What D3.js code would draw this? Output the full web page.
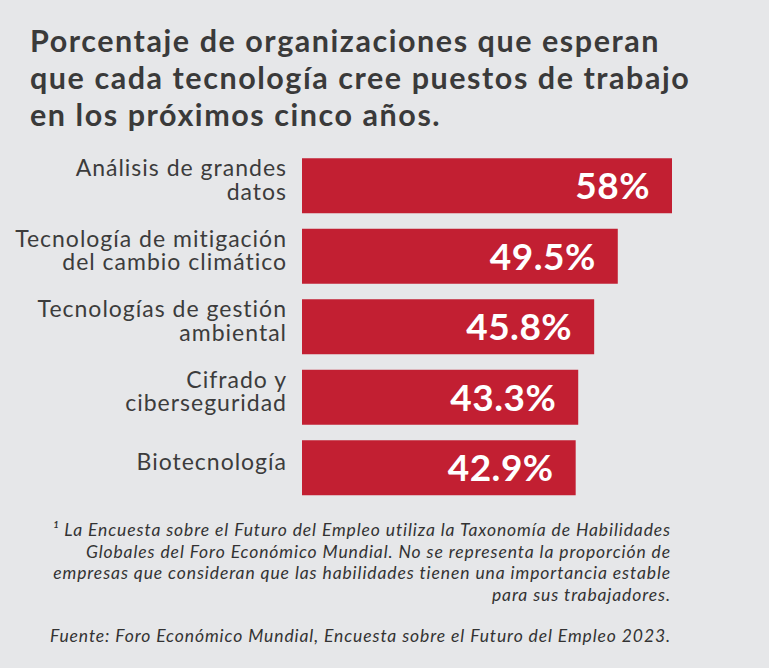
<!DOCTYPE html>
<html>
<head>
<meta charset="utf-8">
<script src="https://cdn.jsdelivr.net/npm/d3@7"></script>
<style>
  html, body { margin: 0; padding: 0; background: #e6e7e9; }
  svg { display: block; }
</style>
</head>
<body>
<div id="chart"></div>
<script>
const titleLines = [
  "Porcentaje de organizaciones que esperan",
  "que cada tecnología cree puestos de trabajo",
  "en los próximos cinco años."
];
const categories = [
  "Análisis de grandes\ndatos",
  "Tecnología de mitigación\ndel cambio climático",
  "Tecnologías de gestión\nambiental",
  "Cifrado y\nciberseguridad",
  "Biotecnología"
];
const values = [58, 49.5, 45.8, 43.3, 42.9];
const valueLabels = ["58%", "49.5%", "45.8%", "43.3%", "42.9%"];
const footnoteLines = [
  "¹ La Encuesta sobre el Futuro del Empleo utiliza la Taxonomía de Habilidades",
  "Globales del Foro Económico Mundial. No se representa la proporción de",
  "empresas que consideran que las habilidades tienen una importancia estable",
  "para sus trabajadores."
];
const sourceLine = "Fuente: Foro Económico Mundial, Encuesta sobre el Futuro del Empleo 2023.";

const W = 769, H = 668;
const svg = d3.select("#chart").append("svg").attr("width", W).attr("height", H);
svg.append("rect").attr("width", W).attr("height", H).attr("fill", "#e6e7e9");

const font = "Lato, 'Open Sans', sans-serif";
const textColor = "#3c3c3c";

// Title
svg.append("g").selectAll("text").data(titleLines).join("text")
  .attr("x", 30)
  .attr("y", (d, i) => 52 + i * 37)
  .attr("font-family", font)
  .attr("font-weight", 700)
  .attr("font-size", 30.5)
  .attr("letter-spacing", 1.55)
  .attr("fill", "#3a3a3a")
  .text(d => d);

// Scales
const x = d3.scaleLinear().domain([0, 58]).range([302, 672]);
const y = d3.scaleBand().domain(categories).range([150.5, 503]).paddingInner(0.22).paddingOuter(0.11);

const g = svg.append("g");
g.selectAll("rect.bar").data(values).join("rect")
  .attr("class", "bar")
  .attr("x", x(0))
  .attr("y", (d, i) => y(categories[i]))
  .attr("width", d => x(d) - x(0))
  .attr("height", y.bandwidth())
  .attr("fill", "#c21f32");

g.selectAll("text.val").data(values).join("text")
  .attr("class", "val")
  .attr("x", d => x(d) - 22)
  .attr("y", (d, i) => y(categories[i]) + y.bandwidth() / 2 + 13.5)
  .attr("text-anchor", "end")
  .attr("font-family", font)
  .attr("font-weight", 700)
  .attr("font-size", 37)
  .attr("letter-spacing", 0.5)
  .attr("fill", "#ffffff")
  .text((d, i) => valueLabels[i]);

// Category labels
const lab = g.selectAll("text.cat").data(categories).join("text")
  .attr("class", "cat")
  .attr("text-anchor", "end")
  .attr("font-family", font)
  .attr("font-size", 23)
  .attr("letter-spacing", 1)
  .attr("fill", textColor);
lab.each(function(d) {
  const lines = d.split("\n");
  const cy = y(d) + y.bandwidth() / 2;
  const t = d3.select(this);
  if (lines.length === 1) {
    t.append("tspan").attr("x", 287).attr("y", cy + 2.5).text(lines[0]);
  } else {
    lines.forEach((l, i) => {
      t.append("tspan").attr("x", 287).attr("y", cy - 9.5 + i * 23.5).text(l);
    });
  }
});

// Footnote
svg.append("g").selectAll("text").data(footnoteLines).join("text")
  .attr("x", 671)
  .attr("y", (d, i) => 536 + i * 21.5)
  .attr("text-anchor", "end")
  .attr("font-family", font)
  .attr("font-style", "italic")
  .attr("font-size", 17.5)
  .attr("letter-spacing", 0.9)
  .attr("fill", "#333333")
  .text(d => d);

svg.append("text")
  .attr("x", 671)
  .attr("y", 642)
  .attr("text-anchor", "end")
  .attr("font-family", font)
  .attr("font-style", "italic")
  .attr("font-size", 17.5)
  .attr("letter-spacing", 0.9)
  .attr("fill", "#333333")
  .text(sourceLine);
</script>
</body>
</html>
